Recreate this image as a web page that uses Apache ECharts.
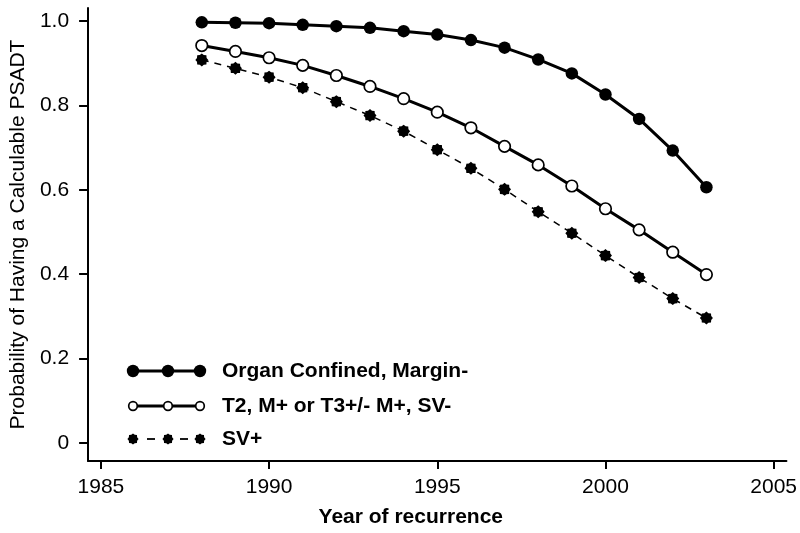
<!DOCTYPE html>
<html>
<head>
<meta charset="utf-8">
<script src="https://cdn.jsdelivr.net/npm/echarts@6/dist/echarts.min.js"></script>
<style>html,body{margin:0;padding:0;background:#fff;}#c{width:800px;height:533px;}</style>
</head>
<body>
<div id="c"></div>
<script>
var years = [1988,1989,1990,1991,1992,1993,1994,1995,1996,1997,1998,1999,2000,2001,2002,2003];
var organConfined = [0.997,0.996,0.995,0.991,0.988,0.984,0.976,0.968,0.955,0.937,0.909,0.876,0.826,0.768,0.693,0.606];
var t2t3 = [0.942,0.928,0.913,0.895,0.871,0.845,0.816,0.784,0.747,0.703,0.659,0.609,0.555,0.505,0.452,0.399];
var svPlus = [0.908,0.888,0.867,0.842,0.809,0.776,0.739,0.695,0.651,0.601,0.548,0.497,0.444,0.392,0.342,0.296];
var seriesNames = ['Organ Confined, Margin-', 'T2, M+ or T3+/- M+, SV-', 'SV+'];
var xTicks = [1985,1990,1995,2000,2005];
var yTicks = [0,0.2,0.4,0.6,0.8,1.0];

function pairs(vals){ return years.map(function(y,i){ return [y, vals[i]]; }); }

// 8-point burst marker
function starPoints(cx, cy, R){
  var pts = [], n = 8, r = R * 0.8;
  for (var i = 0; i < n*2; i++){
    var rad = (i % 2 === 0) ? R : r;
    var a = Math.PI * i / n - Math.PI/2;
    pts.push([cx + rad*Math.cos(a), cy + rad*Math.sin(a)]);
  }
  return pts;
}
var STAR = 'M' + starPoints(50,50,50).map(function(p){ return p[0].toFixed(2)+' '+p[1].toFixed(2); }).join(' L') + ' Z';

var chart = echarts.init(document.getElementById('c'), null, {renderer:'canvas'});
var FONT = 'Liberation Sans, Arial, sans-serif';

var legendRows = [
  {y:371, name:seriesNames[0], kind:'filled'},
  {y:406, name:seriesNames[1], kind:'open'},
  {y:439, name:seriesNames[2], kind:'star'}
];
var legendX = [133,168,200];
var graphics = [];
legendRows.forEach(function(row){
  if (row.kind === 'star') {
    [[147,155],[180,188]].forEach(function(seg){
      graphics.push({type:'line', shape:{x1:seg[0], y1:row.y, x2:seg[1], y2:row.y},
        style:{stroke:'#000', lineWidth:1.8}, z:10});
    });
  } else {
    graphics.push({type:'line', shape:{x1:legendX[0], y1:row.y, x2:legendX[2], y2:row.y},
      style:{stroke:'#000', lineWidth:2.8}, z:10});
  }
  legendX.forEach(function(x){
    if (row.kind==='filled') {
      graphics.push({type:'circle', shape:{cx:x, cy:row.y, r:6.2}, style:{fill:'#000'}, z:11});
    } else if (row.kind==='open') {
      graphics.push({type:'circle', shape:{cx:x, cy:row.y, r:4.3}, style:{fill:'#fff', stroke:'#000', lineWidth:1.7}, z:11});
    } else {
      graphics.push({type:'polygon', shape:{points:starPoints(x,row.y,5.6)}, style:{fill:'#000'}, z:11});
    }
  });
  graphics.push({type:'text', x:222, y:row.y, style:{text:row.name, fill:'#000', font:'bold 21px ' + FONT, textVerticalAlign:'middle', textAlign:'left'}, z:11});
});

chart.setOption({
  animation:false,
  backgroundColor:'#fff',
  grid:{left:86, right:11, top:8, bottom:72, containLabel:false},
  xAxis:{
    type:'value', min:1984.62, max:2005.38,
    name:'Year of recurrence', nameLocation:'middle', nameGap:46,
    nameTextStyle:{fontFamily:FONT, fontSize:21, fontWeight:'bold', color:'#000', padding:[0,53,0,0]},
    axisLine:{show:true, onZero:false, lineStyle:{color:'#000', width:2}},
    axisTick:{show:true, length:8, lineStyle:{color:'#000', width:2}, customValues:xTicks},
    axisLabel:{show:true, fontFamily:FONT, fontSize:21, color:'#000', margin:16, customValues:xTicks,
      formatter:function(v){ return String(Math.round(v)); }},
    splitLine:{show:false}
  },
  yAxis:{
    type:'value', min:-0.043, max:1.031,
    name:'Probability of Having a Calculable PSADT', nameLocation:'middle', nameGap:59,
    nameTextStyle:{fontFamily:FONT, fontSize:21, color:'#000'},
    axisLine:{show:true, onZero:false, lineStyle:{color:'#000', width:2}},
    axisTick:{show:true, length:9, lineStyle:{color:'#000', width:2}, customValues:yTicks},
    axisLabel:{show:true, fontFamily:FONT, fontSize:21, color:'#000', margin:19, customValues:yTicks,
      formatter:function(v){ return Math.abs(v) < 1e-9 ? '0' : v.toFixed(1); }},
    splitLine:{show:false}
  },
  graphic: graphics,
  series:[
    {name:seriesNames[0], type:'line', data:pairs(organConfined), symbol:'circle', symbolSize:12.5,
      lineStyle:{color:'#000', width:3}, itemStyle:{color:'#000'}, z:3},
    {name:seriesNames[1], type:'line', data:pairs(t2t3), symbol:'circle', symbolSize:11.5,
      lineStyle:{color:'#000', width:3}, itemStyle:{color:'#fff', borderColor:'#000', borderWidth:1.7}, z:3},
    {name:seriesNames[2], type:'line', data:pairs(svPlus), symbol:'path://' + STAR, symbolSize:13,
      lineStyle:{color:'#000', width:1.5, type:[7,6]}, itemStyle:{color:'#000'}, z:3}
  ]
});
</script>
</body>
</html>
